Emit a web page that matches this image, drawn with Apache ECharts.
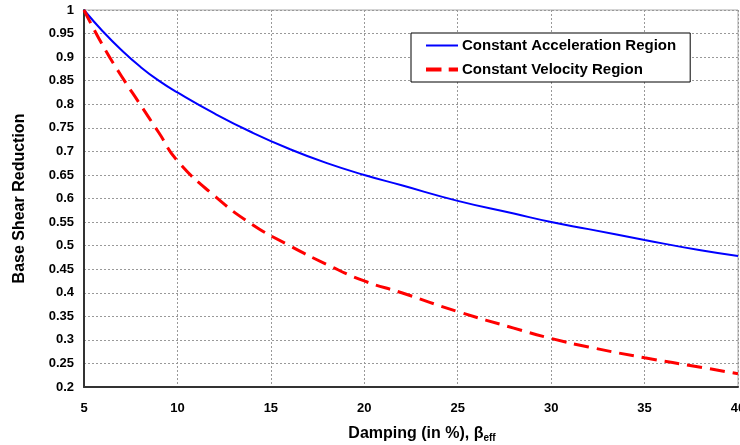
<!DOCTYPE html>
<html>
<head>
<meta charset="utf-8">
<script src="https://cdn.jsdelivr.net/npm/echarts@6/dist/echarts.min.js"></script>
<style>
html, body { margin: 0; padding: 0; background: #fff; }
#main { width: 740px; height: 445px; }
</style>
</head>
<body>
<div id="main"></div>
<script>
var damping = [5, 6, 7, 8, 9, 10, 12, 14, 16, 18, 20, 22, 25, 28, 30, 32, 35, 38, 40];
var accel = [1, 0.955, 0.915, 0.88, 0.85, 0.825, 0.78, 0.74, 0.705, 0.675, 0.65, 0.628, 0.595, 0.568, 0.55, 0.535, 0.512, 0.49, 0.478];
var veloc = [1, 0.925, 0.86, 0.8, 0.74, 0.68, 0.605, 0.545, 0.5, 0.46, 0.425, 0.4, 0.36, 0.325, 0.303, 0.285, 0.262, 0.242, 0.228];

function pairs(xs, ys) {
    return xs.map(function (x, i) { return [x, ys[i]]; });
}

var font = 'Liberation Sans, Arial, sans-serif';
var myChart = echarts.init(document.getElementById('main'));
var option = {
    animation: false,
    grid: { left: 84, right: 2, top: 10, bottom: 58, outerBoundsMode: 'none', containLabel: false,
            show: true, borderColor: '#aaa', borderWidth: 1 },
    legend: {
        orient: 'vertical',
        left: 411,
        top: 33,
        padding: [5, 14, 5, 15],
        itemGap: 9,
        itemWidth: 32,
        itemHeight: 15,
        backgroundColor: '#fff',
        borderColor: '#000',
        borderWidth: 1,
        borderRadius: 0,
        textStyle: { fontFamily: font, fontWeight: 'bold', fontSize: 15, color: '#000', padding: [0, 0, 0, -1] },
        data: [
            { name: 'Constant Acceleration Region', icon: 'path://M0,0 L32,0 L32,2 L0,2 Z', itemStyle: { color: '#0000ff' } },
            { name: 'Constant Velocity Region', icon: 'path://M0,0 L15,0 L15,4 L0,4 Z M22,0 L31,0 L31,4 L22,4 Z', itemStyle: { color: '#ff0000' } }
        ]
    },
    xAxis: {
        type: 'value',
        min: 5,
        max: 40,
        interval: 5,
        name: '{a|Damping (in %), β}{s|eff}',
        nameLocation: 'middle',
        nameGap: 38,
        nameTextStyle: {
            padding: [0, 0, 0, 22],
            rich: {
                a: { fontFamily: font, fontWeight: 'bold', fontSize: 16, color: '#000' },
                s: { fontFamily: font, fontWeight: 'bold', fontSize: 10, color: '#000', padding: [8, 0, 0, 0] }
            }
        },
        axisLine: { show: true, onZero: false, lineStyle: { color: '#333', width: 2 } },
        axisTick: { show: false },
        axisLabel: { fontFamily: font, fontWeight: 'bold', fontSize: 13, color: '#000', margin: 15 },
        splitLine: { show: true, lineStyle: { color: '#999', type: [2, 2], width: 1 } }
    },
    yAxis: {
        type: 'value',
        min: 0.2,
        max: 1,
        interval: 0.05,
        name: 'Base Shear Reduction',
        nameLocation: 'middle',
        nameGap: 56,
        nameTextStyle: { fontFamily: font, fontWeight: 'bold', fontSize: 16, color: '#000' },
        axisLine: { show: true, onZero: false, lineStyle: { color: '#333', width: 2 } },
        axisTick: { show: false },
        axisLabel: {
            fontFamily: font, fontWeight: 'bold', fontSize: 13, color: '#000', margin: 10,
            formatter: function (v) { return String(parseFloat(v.toFixed(2))); }
        },
        splitLine: { show: true, lineStyle: { color: '#999', type: [2, 2], width: 1 } }
    },
    series: [
        {
            name: 'Constant Acceleration Region',
            type: 'line',
            smooth: true,
            showSymbol: false,
            data: pairs(damping, accel),
            lineStyle: { color: '#0000ff', width: 2 }
        },
        {
            name: 'Constant Velocity Region',
            type: 'line',
            smooth: true,
            showSymbol: false,
            data: pairs(damping, veloc),
            lineStyle: { color: '#ff0000', width: 3, type: [15, 8] }
        }
    ]
};
myChart.setOption(option);
</script>
</body>
</html>
